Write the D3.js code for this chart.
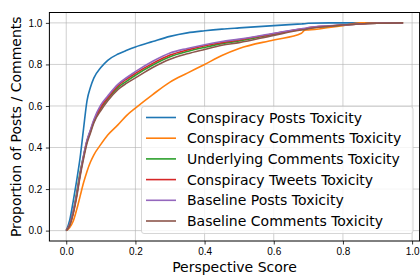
<!DOCTYPE html>
<html>
<head>
<meta charset="utf-8">
<script src="https://cdn.jsdelivr.net/npm/d3@7"></script>
<style>
  body { margin: 0; background: #fff; }
  svg { display: block; font-family: "DejaVu Sans", sans-serif; }
  .grid line { stroke: #b0b0b0; stroke-opacity: 0.75; stroke-width: 0.8; }
  .axis text { font-size: 10px; fill: #000; }
  .axis line { stroke: #000; stroke-width: 0.8; }
</style>
</head>
<body>
<div class="chart"></div>
<script>
// series names
const names = [
  "Conspiracy Posts Toxicity",
  "Conspiracy Comments Toxicity",
  "Underlying Comments Toxicity",
  "Conspiracy Tweets Toxicity",
  "Baseline Posts Toxicity",
  "Baseline Comments Toxicity"
]
const colors = ["#1f77b4", "#ff7f0e", "#2ca02c", "#d62728", "#9467bd", "#8c564b"]

// x values (perspective score)
const scores = [0, 0.01, 0.02, 0.03, 0.04, 0.05, 0.06, 0.07, 0.08, 0.10, 0.12, 0.15, 0.175, 0.20,
  0.25, 0.30, 0.35, 0.40, 0.45, 0.50, 0.60, 0.68, 0.69, 0.70, 0.76, 0.80, 0.85, 0.90, 0.974]

// cumulative proportions, one per score (null = line already ended)
const conspiracyPosts = [0, 0.05, 0.14, 0.24, 0.35, 0.49, 0.625, 0.69, 0.735, 0.785, 0.82, 0.85, 0.868, 0.884,
  0.91, 0.935, 0.952, 0.962, 0.97, 0.976, 0.987, 0.995, 0.996, 0.998, 1.0, 1.0, 1.0, null, null]
const conspiracyComments = [0, 0.015, 0.045, 0.10, 0.165, 0.23, 0.285, 0.33, 0.365, 0.415, 0.46, 0.51, 0.555, 0.59,
  0.655, 0.715, 0.758, 0.80, 0.843, 0.877, 0.918, 0.95, 0.965, 0.966, 0.978, 0.987, 1.0, 1.0, 1.0]
const underlyingComments = [0, 0.03, 0.09, 0.18, 0.28, 0.36, 0.43, 0.48, 0.525, 0.59, 0.635, 0.69, 0.72, 0.748,
  0.797, 0.837, 0.862, 0.882, 0.9, 0.913, 0.945, 0.968, 0.97, 0.974, 0.984, 0.99, 0.995, 0.998, 1.0]
const conspiracyTweets = [0, 0.028, 0.085, 0.17, 0.27, 0.355, 0.43, 0.48, 0.53, 0.595, 0.64, 0.698, 0.73, 0.757,
  0.805, 0.845, 0.87, 0.89, 0.905, 0.918, 0.948, 0.97, 0.972, 0.976, 0.985, 0.99, 0.995, 0.998, 1.0]
const baselinePosts = [0, 0.03, 0.09, 0.17, 0.27, 0.36, 0.435, 0.485, 0.535, 0.605, 0.648, 0.705, 0.737, 0.765,
  0.815, 0.855, 0.877, 0.895, 0.91, 0.922, 0.95, 0.972, 0.974, 0.977, 0.986, 0.99, 0.995, 0.998, 1.0]
const baselineComments = [0, 0.025, 0.08, 0.16, 0.26, 0.345, 0.42, 0.47, 0.52, 0.578, 0.625, 0.68, 0.71, 0.735,
  0.785, 0.825, 0.851, 0.872, 0.892, 0.905, 0.94, 0.966, 0.968, 0.972, 0.984, 0.99, 0.995, 0.998, 1.0]

const seriesValues = [conspiracyPosts, conspiracyComments, underlyingComments,
  conspiracyTweets, baselinePosts, baselineComments]

const xTicks = [0, 0.2, 0.4, 0.6, 0.8, 1.0]
const yTicks = [0, 0.2, 0.4, 0.6, 0.8, 1.0]

const W = 420, H = 275
const margin = { top: 12.5, right: 0.4, bottom: 34, left: 49.4 }
const width = W - margin.left - margin.right
const height = H - margin.top - margin.bottom

const svg = d3.select(".chart").append("svg")
  .attr("width", W)
  .attr("height", H)

const g = svg.append("g")
  .attr("transform", `translate(${margin.left},${margin.top})`)

const xScale = d3.scaleLinear().domain([-0.0487, 1.0217]).range([0, width])
const yScale = d3.scaleLinear().domain([-0.05, 1.05]).range([height, 0])

// grid
g.append("g").attr("class", "grid")
  .selectAll("line.v").data(xTicks).join("line")
  .attr("x1", d => xScale(d)).attr("x2", d => xScale(d))
  .attr("y1", 0).attr("y2", height)
g.select(".grid")
  .selectAll("line.h").data(yTicks).join("line")
  .attr("class", "h")
  .attr("x1", 0).attr("x2", width)
  .attr("y1", d => yScale(d)).attr("y2", d => yScale(d))

// lines
const line = d3.line()
  .defined(d => d[1] != null)
  .curve(d3.curveMonotoneX)
  .x(d => xScale(d[0]))
  .y(d => yScale(d[1]))

seriesValues.forEach((vals, i) => {
  g.append("path")
    .datum(scores.map((s, j) => [s, vals[j]]))
    .attr("fill", "none")
    .attr("stroke", colors[i])
    .attr("stroke-width", 1.6)
    .attr("stroke-linejoin", "round")
    .attr("d", line)
})

// axes
const xAxis = d3.axisBottom(xScale).tickValues(xTicks).tickFormat(d3.format(".1f"))
  .tickSize(3.5).tickPadding(3.5)
const yAxis = d3.axisLeft(yScale).tickValues(yTicks).tickFormat(d3.format(".1f"))
  .tickSize(3.5).tickPadding(3.5)

g.append("g").attr("class", "axis x-axis")
  .attr("transform", `translate(0,${height})`)
  .call(xAxis)
  .call(a => a.select(".domain").remove())
g.append("g").attr("class", "axis y-axis")
  .call(yAxis)
  .call(a => a.select(".domain").remove())

// frame
g.append("rect")
  .attr("width", width).attr("height", height)
  .attr("fill", "none").attr("stroke", "#000").attr("stroke-width", 1)

// axis labels
svg.append("text")
  .attr("x", margin.left + width / 2).attr("y", 272)
  .attr("text-anchor", "middle")
  .style("font-size", "14px")
  .text("Perspective Score")

svg.append("text")
  .attr("transform", `translate(20.5,${margin.top + height / 2}) rotate(-90)`)
  .attr("text-anchor", "middle")
  .style("font-size", "14px")
  .text("Proportion of Posts / Comments")

// legend
const legend = svg.append("g").attr("transform", "translate(141.5,106.5)")
legend.append("rect")
  .attr("width", 271.5).attr("height", 127)
  .attr("rx", 2.5)
  .attr("fill", "#fff").attr("fill-opacity", 0.8)
  .attr("stroke", "#cccccc").attr("stroke-width", 0.8)

const items = legend.selectAll("g.item").data(names).join("g")
  .attr("class", "item")
  .attr("transform", (d, i) => `translate(0,${11 + i * 20.7})`)
items.append("line")
  .attr("x1", 4.5).attr("x2", 34.5)
  .attr("stroke", (d, i) => colors[i])
  .attr("stroke-width", 1.6)
items.append("text")
  .attr("x", 45.5).attr("y", 5)
  .style("font-size", "14px")
  .text(d => d)
</script>
</body>
</html>
